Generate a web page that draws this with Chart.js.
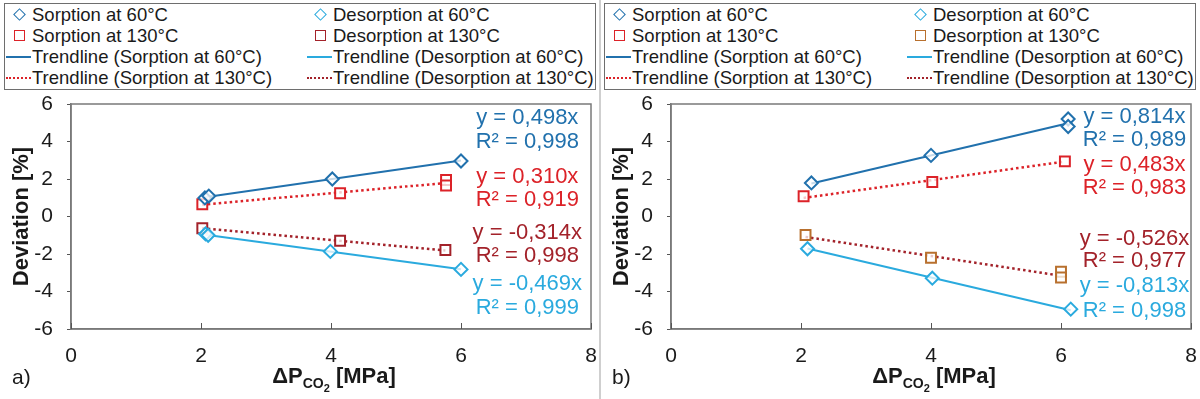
<!DOCTYPE html>
<html>
<head>
<meta charset="utf-8">
<script src="https://cdn.jsdelivr.net/npm/chart.js@4.4.1/dist/chart.umd.min.js"></script>
<style>
body { margin: 0; background: #fff; font-family: "Liberation Sans", Arial, sans-serif; }
#wrap { position: relative; width: 1200px; height: 399px; overflow: hidden; }
.panel { position: absolute; top: 0; width: 600px; height: 399px; }
.panel canvas { position: absolute; left: 0; top: 0; }
.divider { position: absolute; left: 599px; top: 0; width: 2px; height: 399px; background: #cfcfcf; }
.legend { position: absolute; left: 4px; top: 3px; width: 592px; height: 87px; border: 1.5px solid #6e6e6e; box-sizing: border-box; font-size: 18.5px; color: #1a1a1a; background: #fff; }
.item { position: absolute; height: 21px; line-height: 21px; white-space: nowrap; }
.item .txt { position: absolute; left: 26px; top: 0; }
.mk { position: absolute; box-sizing: border-box; }
</style>
</head>
<body>
<div id="wrap">
  <div class="panel" style="left:0"><canvas id="chartA" width="600" height="399"></canvas><div class="legend" id="legendA"></div></div>
  <div class="panel" style="left:600px"><canvas id="chartB" width="600" height="399"></canvas><div class="legend" id="legendB"></div></div>
  <div class="divider"></div>
</div>
<script>
// ---- data ----
const xTicks = [0, 2, 4, 6, 8];
const yTicks = [-6, -4, -2, 0, 2, 4, 6];

const legendLabels = [
  'Sorption at 60°C', 'Desorption at 60°C',
  'Sorption at 130°C', 'Desorption at 130°C',
  'Trendline (Sorption at 60°C)', 'Trendline (Desorption at 60°C)',
  'Trendline (Sorption at 130°C)', 'Trendline (Desorption at 130°C)'
];

// panel a)
const aSorp60X = [2.06, 2.12, 4.02, 6.0];
const aSorp60Y = [0.99, 1.09, 2.0, 2.96];
const aDesorp60X = [2.07, 2.11, 3.99, 6.0];
const aDesorp60Y = [-0.93, -1.0, -1.86, -2.82];
const aSorp130X = [2.02, 4.14, 5.77, 5.77];
const aSorp130Y = [0.65, 1.24, 1.95, 1.65];
const aDesorp130X = [2.02, 4.14, 5.76];
const aDesorp130Y = [-0.63, -1.29, -1.79];
const aTrendSorp60X = [2.06, 6.0];
const aTrendSorp60Y = [1.03, 2.99];
const aTrendDesorp60X = [2.07, 6.0];
const aTrendDesorp60Y = [-0.97, -2.81];
const aTrendSorp130X = [2.02, 5.77];
const aTrendSorp130Y = [0.63, 1.79];
const aTrendDesorp130X = [2.02, 5.76];
const aTrendDesorp130Y = [-0.63, -1.81];
const aEquations = ['y = 0,498x', 'R² = 0,998', 'y = 0,310x', 'R² = 0,919',
                    'y = -0,314x', 'R² = 0,998', 'y = -0,469x', 'R² = 0,999'];

// panel b)
const bSorp60X = [2.16, 4.0, 6.11, 6.11];
const bSorp60Y = [1.79, 3.26, 5.2, 4.8];
const bDesorp60X = [2.1, 4.02, 6.15];
const bDesorp60Y = [-1.72, -3.29, -4.94];
const bSorp130X = [2.04, 4.02, 6.06];
const bSorp130Y = [1.08, 1.84, 2.94];
const bDesorp130X = [2.07, 4.0, 6.0, 6.0];
const bDesorp130Y = [-0.99, -2.2, -2.95, -3.25];
const bTrendSorp60X = [2.16, 6.11];
const bTrendSorp60Y = [1.76, 4.97];
const bTrendDesorp60X = [2.1, 6.15];
const bTrendDesorp60Y = [-1.71, -5.0];
const bTrendSorp130X = [2.04, 6.06];
const bTrendSorp130Y = [0.99, 2.93];
const bTrendDesorp130X = [2.07, 6.0];
const bTrendDesorp130Y = [-1.09, -3.16];
const bEquations = ['y = 0,814x', 'R² = 0,989', 'y = 0,483x', 'R² = 0,983',
                    'y = -0,526x', 'R² = 0,977', 'y = -0,813x', 'R² = 0,998'];

// ---- styling ----
const DARK_BLUE = '#2171ad';
const LIGHT_BLUE = '#2aaade';
const RED = '#dc2228';
const DARK_RED = '#a3222a';
const BROWN = '#b8702e';
const FONT = '"Liberation Sans", Arial, sans-serif';

function pts(xs, ys) {
  return xs.map((x, i) => ({ x: x, y: ys[i] }));
}

function markerSet(label, xs, ys, color, style, fill) {
  return {
    label: label, data: pts(xs, ys), showLine: false,
    pointStyle: style, pointRadius: style === 'rect' ? 7 : 6.5,
    pointBorderColor: color, pointBackgroundColor: fill || 'rgba(255,255,255,0.75)',
    pointBorderWidth: 2, order: 1
  };
}

function trendSet(label, xs, ys, color, dotted) {
  return {
    label: label, data: pts(xs, ys), showLine: true, pointRadius: 0,
    borderColor: color, borderWidth: dotted ? 2.5 : 2,
    borderDash: dotted ? [2.5, 3] : [], order: 2
  };
}

// equations, anchor in axis units (centre of text)
const eqPosA = [[7.02, 5.25], [7.02, 3.97], [7.02, 2.1], [7.02, 0.88],
                [7.02, -0.88], [7.02, -2.1], [7.02, -3.6], [7.02, -4.88]];
const eqPosB = [[7.13, 5.31], [7.13, 4.09], [7.13, 2.76], [7.13, 1.54],
                [7.13, -1.22], [7.13, -2.39], [7.13, -3.72], [7.13, -5.05]];

const extras = {
  id: 'extras',
  afterDraw(chart, args, opts) {
    const { ctx, chartArea: a, scales } = chart;
    const xs = scales.x, ys = scales.y;
    ctx.save();
    // frame around plot
    ctx.strokeStyle = '#7a7a7a';
    ctx.lineWidth = 1.5;
    ctx.strokeRect(a.left, a.top, a.right - a.left, a.bottom - a.top);
    // x tick marks pointing inward
    ctx.lineWidth = 1;
    ctx.strokeStyle = '#555';
    xTicks.forEach(v => {
      const px = Math.round(xs.getPixelForValue(v)) + 0.5;
      ctx.beginPath();
      ctx.moveTo(px, a.bottom);
      ctx.lineTo(px, a.bottom - 6);
      ctx.stroke();
    });
    // equations
    ctx.font = '22px ' + FONT;
    ctx.textAlign = 'center';
    ctx.textBaseline = 'middle';
    opts.equations.forEach((t, i) => {
      ctx.fillStyle = opts.eqColors[i];
      ctx.fillText(t, xs.getPixelForValue(opts.eqPos[i][0]), ys.getPixelForValue(opts.eqPos[i][1]));
    });
    // x axis title with subscript
    ctx.fillStyle = '#1a1a1a';
    ctx.textAlign = 'left';
    ctx.textBaseline = 'alphabetic';
    const parts = [
      { t: 'ΔP', f: 'bold 22px ' + FONT, dy: 0 },
      { t: 'CO', f: 'bold 14px ' + FONT, dy: 5 },
      { t: '2', f: 'bold 11px ' + FONT, dy: 9 },
      { t: ' [MPa]', f: 'bold 22px ' + FONT, dy: 0 }
    ];
    let w = 0;
    parts.forEach(p => { ctx.font = p.f; p.w = ctx.measureText(p.t).width; w += p.w; });
    let cx = (a.left + a.right) / 2 - w / 2 + 3;
    const base = 383;
    parts.forEach(p => { ctx.font = p.f; ctx.fillText(p.t, cx, base + p.dy); cx += p.w; });
    // panel label
    ctx.font = '21px ' + FONT;
    ctx.fillText(opts.panel, 12, 384);
    ctx.restore();
  }
};

function makeChart(id, sets, equations, eqColors, eqPos, panel) {
  return new Chart(document.getElementById(id), {
    type: 'scatter',
    data: { datasets: sets },
    options: {
      responsive: false,
      animation: false,
      layout: { padding: { left: 0, top: 104, right: 9, bottom: 0 } },
      plugins: {
        legend: { display: false },
        tooltip: { enabled: false },
        extras: { equations: equations, eqColors: eqColors, eqPos: eqPos, panel: panel }
      },
      scales: {
        x: {
          type: 'linear', min: 0, max: 8,
          afterFit: s => { s.height = 70; s.paddingLeft = 0; s.paddingRight = 0; },
          afterBuildTicks: s => { s.ticks = xTicks.map(v => ({ value: v })); },
          grid: { display: true, drawOnChartArea: false, drawTicks: false },
          border: { color: '#7a7a7a', width: 1.5 },
          ticks: { padding: 15, color: '#1a1a1a', font: { size: 21, family: FONT } }
        },
        y: {
          type: 'linear', min: -6, max: 6,
          afterFit: s => { s.width = 71; s.paddingTop = 0; s.paddingBottom = 0; },
          afterBuildTicks: s => { s.ticks = yTicks.map(v => ({ value: v })); },
          grid: { drawOnChartArea: false, tickLength: 4, color: '#555' },
          border: { color: '#7a7a7a', width: 1.5 },
          ticks: { padding: 14, color: '#1a1a1a', font: { size: 21, family: FONT } },
          title: { display: true, text: 'Deviation [%]', color: '#1a1a1a',
                   font: { size: 22, weight: 'bold', family: FONT }, padding: { top: 9, bottom: 0 } }
        }
      }
    },
    plugins: [extras]
  });
}

makeChart('chartA', [
  markerSet(legendLabels[0], aSorp60X, aSorp60Y, DARK_BLUE, 'rectRot'),
  markerSet(legendLabels[1], aDesorp60X, aDesorp60Y, LIGHT_BLUE, 'rectRot'),
  markerSet(legendLabels[2], aSorp130X, aSorp130Y, RED, 'rect'),
  markerSet(legendLabels[3], aDesorp130X, aDesorp130Y, DARK_RED, 'rect'),
  trendSet(legendLabels[4], aTrendSorp60X, aTrendSorp60Y, DARK_BLUE, false),
  trendSet(legendLabels[5], aTrendDesorp60X, aTrendDesorp60Y, LIGHT_BLUE, false),
  trendSet(legendLabels[6], aTrendSorp130X, aTrendSorp130Y, RED, true),
  trendSet(legendLabels[7], aTrendDesorp130X, aTrendDesorp130Y, DARK_RED, true)
], aEquations, [DARK_BLUE, DARK_BLUE, RED, RED, DARK_RED, DARK_RED, LIGHT_BLUE, LIGHT_BLUE], eqPosA, 'a)');

makeChart('chartB', [
  markerSet(legendLabels[0], bSorp60X, bSorp60Y, DARK_BLUE, 'rectRot'),
  markerSet(legendLabels[1], bDesorp60X, bDesorp60Y, LIGHT_BLUE, 'rectRot'),
  markerSet(legendLabels[2], bSorp130X, bSorp130Y, RED, 'rect'),
  markerSet(legendLabels[3], bDesorp130X, bDesorp130Y, BROWN, 'rect'),
  trendSet(legendLabels[4], bTrendSorp60X, bTrendSorp60Y, DARK_BLUE, false),
  trendSet(legendLabels[5], bTrendDesorp60X, bTrendDesorp60Y, LIGHT_BLUE, false),
  trendSet(legendLabels[6], bTrendSorp130X, bTrendSorp130Y, RED, true),
  trendSet(legendLabels[7], bTrendDesorp130X, bTrendDesorp130Y, DARK_RED, true)
], bEquations, [DARK_BLUE, DARK_BLUE, RED, RED, DARK_RED, DARK_RED, LIGHT_BLUE, LIGHT_BLUE], eqPosB, 'b)');

// ---- HTML legends (two columns) ----
function buildLegend(id, marks) {
  const box = document.getElementById(id);
  legendLabels.forEach((lbl, i) => {
    const item = document.createElement('div');
    item.className = 'item';
    item.style.left = (i % 2 === 0 ? 1 : 302) + 'px';
    item.style.top = (Math.floor(i / 2) * 21) + 'px';
    const m = document.createElement('span');
    m.className = 'mk';
    const k = marks[i];
    if (k.t === 'diamond') {
      Object.assign(m.style, { left: '9px', top: '6px', width: '9px', height: '9px',
        border: '1.5px solid ' + k.c, transform: 'rotate(45deg)' });
    } else if (k.t === 'square') {
      Object.assign(m.style, { left: '8px', top: '5px', width: '11px', height: '11px',
        border: '1.8px solid ' + k.c });
    } else if (k.t === 'line') {
      Object.assign(m.style, { left: '0px', top: '10px', width: '25px', height: '2px', background: k.c });
    } else {
      Object.assign(m.style, { left: '0px', top: '10px', width: '25px', height: '0px',
        borderTop: '2px dotted ' + k.c });
    }
    const t = document.createElement('span');
    t.className = 'txt';
    t.textContent = lbl;
    item.appendChild(m);
    item.appendChild(t);
    box.appendChild(item);
  });
}

buildLegend('legendA', [
  { t: 'diamond', c: DARK_BLUE }, { t: 'diamond', c: LIGHT_BLUE },
  { t: 'square', c: RED }, { t: 'square', c: DARK_RED },
  { t: 'line', c: DARK_BLUE }, { t: 'line', c: LIGHT_BLUE },
  { t: 'dots', c: RED }, { t: 'dots', c: DARK_RED }
]);
buildLegend('legendB', [
  { t: 'diamond', c: DARK_BLUE }, { t: 'diamond', c: LIGHT_BLUE },
  { t: 'square', c: RED }, { t: 'square', c: BROWN },
  { t: 'line', c: DARK_BLUE }, { t: 'line', c: LIGHT_BLUE },
  { t: 'dots', c: RED }, { t: 'dots', c: DARK_RED }
]);
</script>
</body>
</html>
